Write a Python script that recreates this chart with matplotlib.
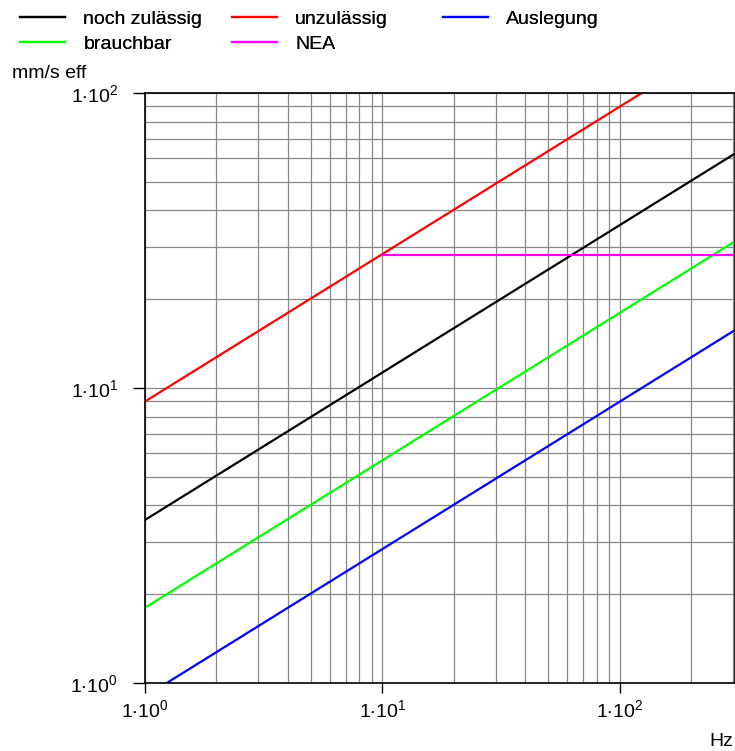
import numpy as np
import matplotlib.pyplot as plt
from matplotlib.ticker import FixedLocator, FuncFormatter, LogLocator, NullFormatter

plt.rcParams['font.family'] = ['Liberation Sans', 'DejaVu Sans']

# frequency range (Hz) and line factors, v = k * sqrt(f)
f = np.array([1.0, 300.0])
k_noch = 3.57
k_unzul = 9.0
k_brauch = 1.8
k_ausl = 0.9
f_nea = np.array([10.0, 300.0])
v_nea = np.array([28.2, 28.2])

W, H = 735, 751
fig = plt.figure(figsize=(W/100, H/100), dpi=100)
ax = fig.add_axes([145/W, 68/H, 590/W, 590/H])

l1, = ax.plot(f, k_noch*np.sqrt(f), color='black', lw=1.6, label='noch zulässig')
l2, = ax.plot(f, k_brauch*np.sqrt(f), color='#00ff00', lw=1.6, label='brauchbar')
l3, = ax.plot(f, k_unzul*np.sqrt(f), color='red', lw=1.6, label='unzulässig')
l4, = ax.plot(f_nea, v_nea, color='magenta', lw=1.6, label='NEA')
l5, = ax.plot(f, k_ausl*np.sqrt(f), color='blue', lw=1.6, label='Auslegung')

ax.set_xscale('log')
ax.set_yscale('log')
ax.set_xlim(1, 305)
ax.set_ylim(1, 100)

ax.xaxis.set_major_locator(FixedLocator([1, 10, 100]))
ax.yaxis.set_major_locator(FixedLocator([1, 10, 100]))
ax.xaxis.set_minor_locator(LogLocator(base=10, subs=np.arange(2, 10), numticks=20))
ax.yaxis.set_minor_locator(LogLocator(base=10, subs=np.arange(2, 10), numticks=20))
ax.xaxis.set_minor_formatter(NullFormatter())
ax.yaxis.set_minor_formatter(NullFormatter())
fmt = FuncFormatter(lambda v, p: r'$\mathregular{1{\cdot}10^{%d}}$' % round(np.log10(v)))
ax.xaxis.set_major_formatter(fmt)
ax.yaxis.set_major_formatter(fmt)
ax.tick_params(which='minor', length=0)
ax.tick_params(axis='y', which='major', length=8.6, width=1, labelsize=14, pad=11)
ax.tick_params(axis='x', which='major', length=7.5, width=1, labelsize=14, pad=4)

ax.grid(True, which='both', color='#888888', lw=0.9)
ax.set_axisbelow(True)
for s in ax.spines.values():
    s.set_linewidth(1.2)

fig.text(12/W, 1-73/H, 'mm/s eff', fontsize=14, va='center', ha='left')
fig.text(733/W, 1-742/H, 'Hz', fontsize=14, va='center', ha='right')

# legend in three fixed columns
cols = [([l1, l2], 20), ([l3, l4], 232), ([l5], 443)]
for hs, x0 in cols:
    lg = fig.legend(handles=hs, loc='upper left', bbox_to_anchor=(x0/W, 1-10/H),
                    frameon=False, fontsize=14, handlelength=2.3, handletextpad=0.95,
                    labelspacing=0.38, borderpad=0, borderaxespad=0)
    fig.add_artist(lg)

fig.savefig('out.png', dpi=100)
